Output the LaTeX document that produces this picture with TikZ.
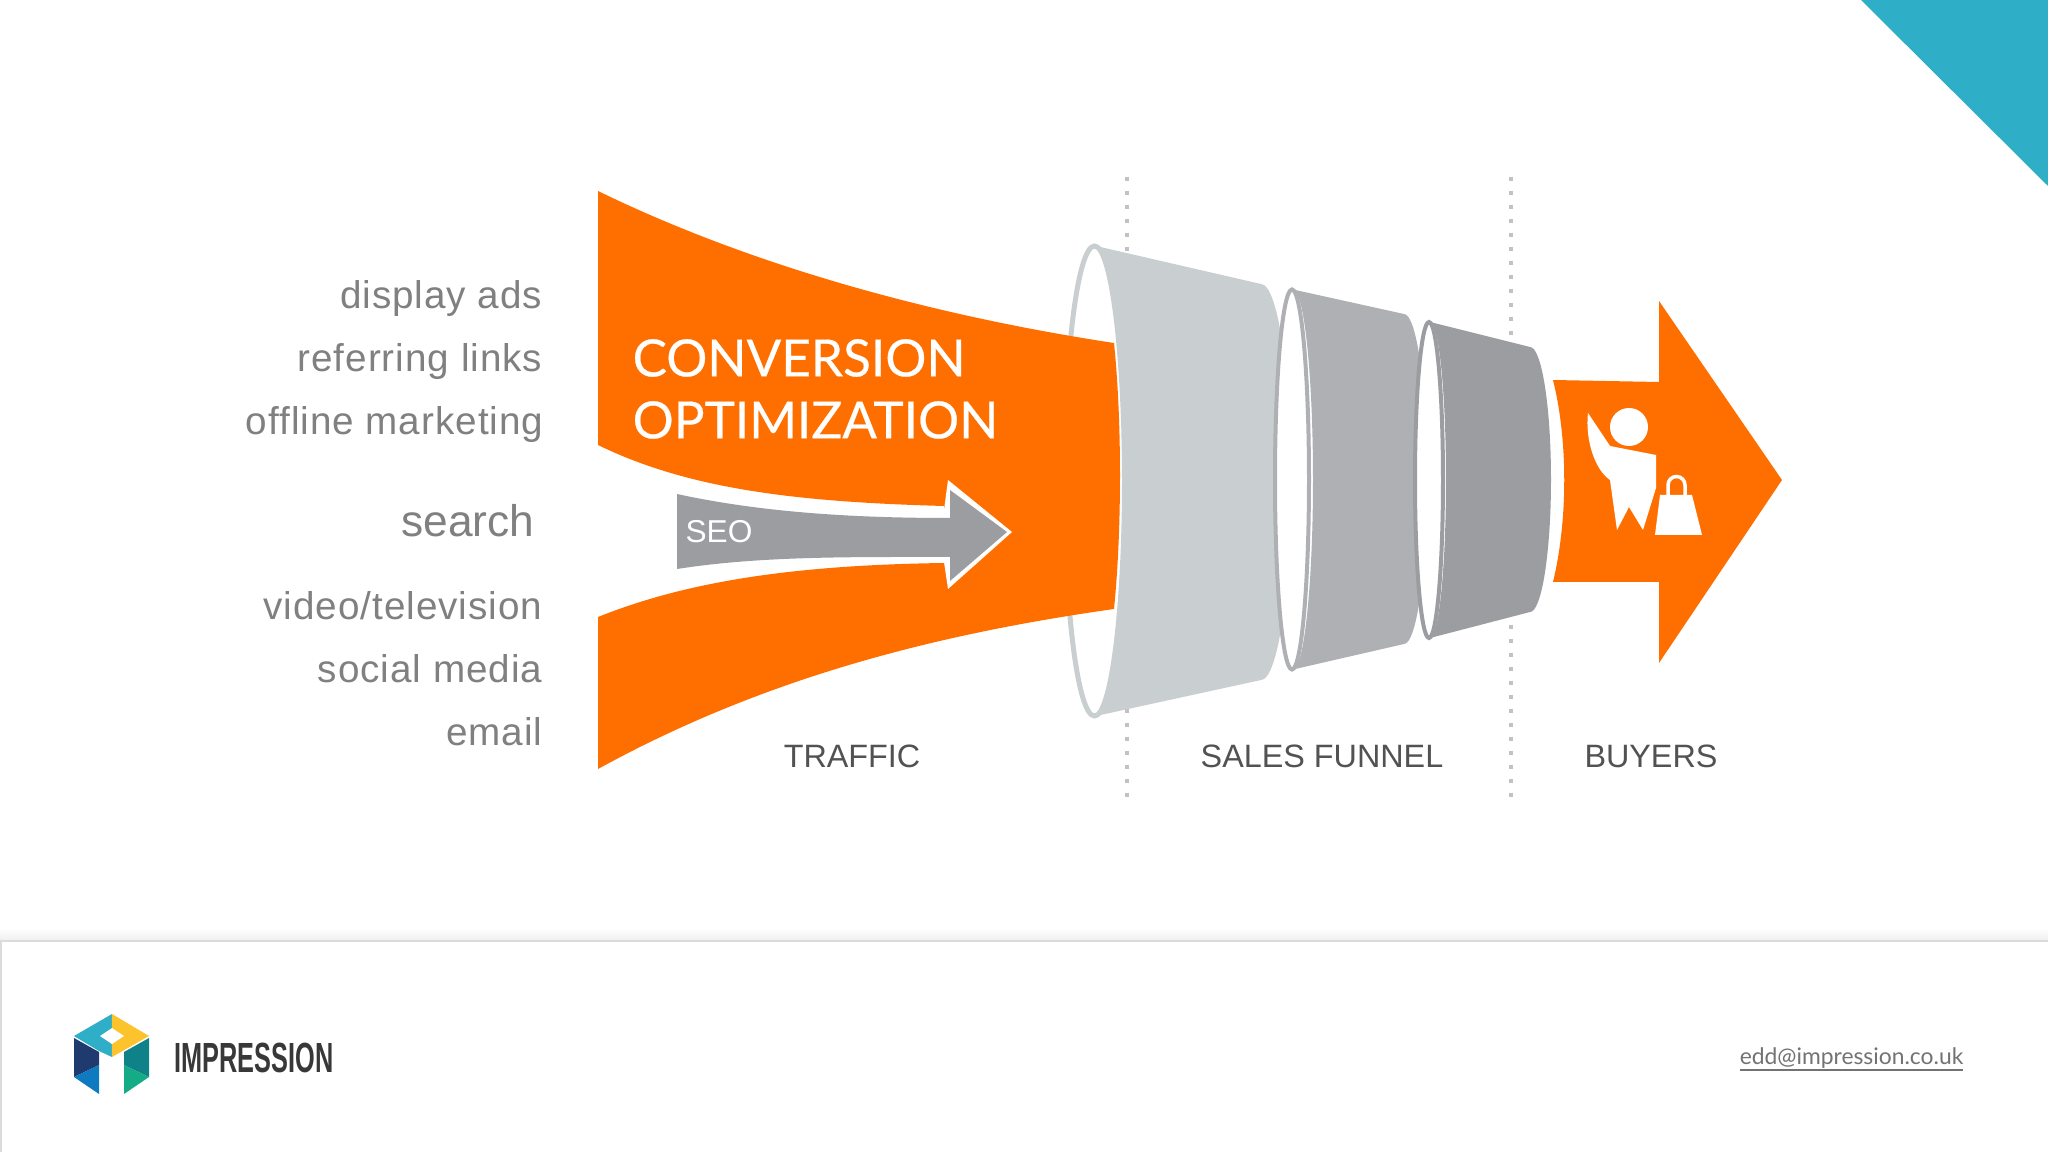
\documentclass[tikz,border=0pt]{standalone}
\usepackage{fontspec}
\setmainfont{Liberation Sans}
\newfontfamily\headfont[FakeBold=0.4]{Lato}
\newfontfamily\mailfont{Lato}
\newfontfamily\sourcefont[LetterSpace=2.5]{Liberation Sans}
\definecolor{funorange}{HTML}{FF6F00}
\definecolor{funlight}{HTML}{C9CFD0}
\definecolor{funmid}{HTML}{AEB0B3}
\definecolor{fundark}{HTML}{9B9DA0}
\definecolor{cornerteal}{HTML}{2FAEC8}
\definecolor{logoyellow}{HTML}{FCC32C}
\definecolor{logonavy}{HTML}{1E3A6E}
\definecolor{logoblue}{HTML}{0E7ABF}
\definecolor{logoteal}{HTML}{0E8288}
\definecolor{logogreen}{HTML}{14AB87}
\tikzset{
  sourcelab/.style={anchor=east,inner sep=0pt,text=black!50,font=\sourcefont\fontsize{11pt}{13pt}\selectfont},
  stagelab/.style={inner sep=0pt,text=black!68,font=\fontsize{9.2pt}{11pt}\selectfont},
  headlab/.style={anchor=west,inner sep=0pt,text=white,font=\headfont\fontsize{14.6pt}{17pt}\selectfont},
  divider/.style={draw=black!24,line width=.4mm,dash pattern=on .4mm off 1mm}
}
\begin{document}
\begin{tikzpicture}
  \useasboundingbox (0,0) rectangle (20.48,-11.52);
  \fill[white] (0,0) rectangle (20.48,-11.52);
  \fill[cornerteal] (18.61,0) -- (20.48,0) -- (20.48,-1.86) -- cycle;
  %%
  \draw[divider] (11.27,-1.77) -- (11.27,-7.97);
  \draw[divider] (15.11,-1.77) -- (15.11,-7.97);
  %%
  \draw[funlight,line width=.5mm,fill=white] (10.945,-4.81) ellipse (.3 and 2.35);
  \fill[funorange] (5.98,-1.91) .. controls (7.5,-2.65) and (9.3,-3.15) .. (11.14,-3.43)
    .. controls (11.22,-4.2) and (11.22,-5.3) .. (11.14,-6.09)
    .. controls (9.3,-6.35) and (7.6,-6.8) .. (5.98,-7.69)
    -- (5.98,-6.17) .. controls (6.9,-5.8) and (8,-5.65) .. (9.44,-5.63)
    -- (9.44,-5.06) .. controls (8,-5.02) and (6.9,-4.9) .. (5.98,-4.45) -- cycle;
  \fill[white] (6.7,-4.88) .. controls (7.6,-5.06) and (8.5,-5.1) .. (9.44,-5.1) -- (9.48,-4.8) -- (10.12,-5.32) -- (9.48,-5.89) -- (9.44,-5.62) .. controls (8.5,-5.62) and (7.6,-5.62) .. (6.7,-5.72) -- cycle;
  \fill[fundark] (6.77,-4.94) .. controls (7.6,-5.12) and (8.5,-5.18) .. (9.5,-5.18) -- (9.5,-4.9) -- (10.07,-5.32) -- (9.5,-5.81) -- (9.5,-5.57) .. controls (8.5,-5.57) and (7.6,-5.56) .. (6.77,-5.69) -- cycle;
  %%
  \fill[funlight] (10.96,-2.46) arc (90:-90:.3 and 2.35) -- (12.61,-6.8) arc (-90:90:.3 and 1.98) -- cycle;
  \draw[funmid,line width=.4mm,fill=white] (12.92,-4.795) ellipse (.17 and 1.9);
  \fill[funmid] (12.93,-2.895) arc (90:-90:.2 and 1.9) -- (14.04,-6.44) arc (-90:90:.23 and 1.65) -- cycle;
  \draw[fundark,line width=.4mm,fill=white] (14.29,-4.8) ellipse (.14 and 1.58);
  \fill[fundark] (14.3,-3.22) arc (90:-90:.16 and 1.58) -- (15.3,-6.12) arc (-90:90:.21 and 1.325) -- cycle;
  %%
  \fill[funorange] (15.53,-3.8) -- (16.59,-3.82) -- (16.59,-3.01) -- (17.82,-4.8) -- (16.59,-6.63) -- (16.59,-5.82) -- (15.53,-5.82) .. controls (15.68,-5.2) and (15.68,-4.4) .. cycle;
  \fill[white] (16.29,-4.27) circle (.19);
  \fill[white] (15.88,-4.13) -- (16.1,-4.46) -- (16.56,-4.55) -- (16.56,-4.88) -- (16.43,-5.3) -- (16.29,-5.07) -- (16.17,-5.3) -- (16.1,-4.8) .. controls (15.95,-4.7) and (15.85,-4.4) .. cycle;
  \fill[white] (16.6,-4.95) -- (16.92,-4.95) -- (17.02,-5.35) -- (16.55,-5.35) -- cycle;
  \draw[white,line width=.35mm] (16.68,-4.95) -- (16.68,-4.85) arc (180:0:.085) -- (16.85,-4.95);
  %%
  \node[sourcelab] (dispads) at (5.43,-2.99) {display ads};
  \node[sourcelab] (reflinks) at (5.43,-3.62) {referring links};
  \node[sourcelab] (offline) at (5.44,-4.25) {offline marketing};
  \node[sourcelab,font=\fontsize{12.6pt}{14pt}\selectfont] (search) at (5.35,-5.21) {search};
  \node[sourcelab] (video) at (5.43,-6.06) {video/television};
  \node[sourcelab] (social) at (5.43,-6.69) {social media};
  \node[sourcelab] (email) at (5.43,-7.32) {email};
  %%
  \node[headlab] (conv) at (6.32,-3.58) {CONVERSION};
  \node[headlab] (optim) at (6.32,-4.2) {OPTIMIZATION};
  \node[inner sep=0pt,text=white,font=\fontsize{9pt}{11pt}\selectfont] (seo) at (7.19,-5.32) {SEO};
  %%
  \node[stagelab] (traffic) at (8.52,-7.56) {TRAFFIC};
  \node[stagelab] (sales) at (13.22,-7.56) {SALES FUNNEL};
  \node[stagelab] (buyers) at (16.51,-7.56) {BUYERS};
  %%
  \shade[top color=white,bottom color=black!6] (0,-9.28) rectangle (20.48,-9.4);
  \draw[black!14,line width=.2mm] (20.48,-9.41) -- (.01,-9.41) -- (.01,-11.52);
  %%
  \fill[cornerteal] (1.12,-10.14) -- (.74,-10.36) -- (.99,-10.51) -- (1.12,-10.57) -- cycle;
  \fill[logoyellow] (1.12,-10.14) -- (1.49,-10.36) -- (1.12,-10.57) -- cycle;
  \fill[white] (1.12,-10.28) -- (1.24,-10.36) -- (1.12,-10.44) -- (1,-10.36) -- cycle;
  \fill[logonavy] (.74,-10.38) -- (.99,-10.52) -- (.99,-10.65) -- (.74,-10.77) -- cycle;
  \fill[logoblue] (.74,-10.77) -- (.99,-10.65) -- (.99,-10.94) -- cycle;
  \fill[logoteal] (1.24,-10.52) -- (1.49,-10.38) -- (1.49,-10.77) -- (1.24,-10.65) -- cycle;
  \fill[logogreen] (1.24,-10.65) -- (1.49,-10.77) -- (1.24,-10.94) -- cycle;
  \node[anchor=west,inner sep=0pt,text=black!78,font=\bfseries\fontsize{12pt}{14pt}\selectfont] (brand) at (1.74,-10.58) {\scalebox{.6}[1]{IMPRESSION}};
  \node[anchor=base east,inner sep=0pt,text=black!55,font=\mailfont\fontsize{6.5pt}{8pt}\selectfont] (mail) at (19.64,-10.65) {\underline{\raisebox{0pt}[\height][0pt]{edd@impression.co.uk}}};
\end{tikzpicture}
\end{document}
